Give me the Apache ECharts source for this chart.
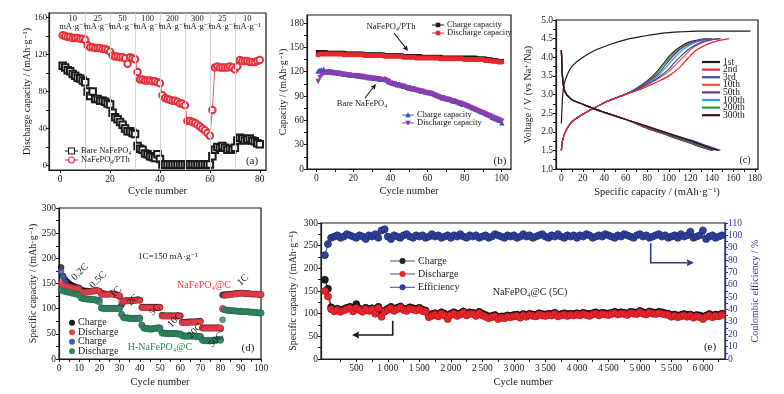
<!DOCTYPE html>
<html>
<head>
<meta charset="utf-8">
<script src="https://cdn.jsdelivr.net/npm/echarts@6/dist/echarts.min.js"></script>
<style>
  html, body { margin: 0; padding: 0; background: #fff; }
  #chart { width: 784px; height: 394px; }
</style>
</head>
<body>
<div id="chart"></div>
<script>
const FONT = "'Liberation Serif', 'DejaVu Serif', serif";

// ---- (a) rate capability, 80 cycles
const rateLabelsA = ["10", "25", "50", "100", "200", "300", "25", "10"];
const bareA = [108,106,103,102,99,97,95,94,92,90, 80,75,80,72,72,70,70,69,67,66,
  57,52,50,47,44,40,37,37,35,34, 21,18,17,13,12,10,9,8,12,7,
  1,1,1,1,1,1,1,1,1,1, 1,1,1,1,1,1,1,1,1,1,
  10,17,20,19,21,19,17,18,17,19, 27,30,29,27,28,29,27,26,24,23];
const pthA = [141,140,139,139,138,138,138,137,137,136, 130,128,128,127,127,127,126,126,125,123,
  119,118,118,117,117,116,110,117,116,115, 101,93,93,92,92,92,91,91,90,89,
  76,73,72,71,70,70,69,67,67,65, 48,48,47,46,44,42,40,38,35,32,
  60,106,107,106,106,106,106,107,106,104, 107,114,113,113,113,112,112,112,113,114];

// ---- (b) cycling, 100 cycles
const pthChargeB = [144,144,144,144,144,143,143,143,143,143, 143,143,143,143,143,142,142,142,142,142,
  142,142,142,142,142,141,141,141,141,141, 141,141,141,141,141,141,140,140,140,140,
  140,140,140,140,140,140,139,139,139,139, 139,139,139,139,139,139,138,138,138,138,
  138,138,138,138,138,138,138,137,137,137, 137,137,137,137,137,137,137,137,137,137,
  137,137,137,137,137,137,136,136,136,136, 136,135,135,135,134,134,134,133,133,133];
const pthDischargeB = [141,142,142,142,142,142,142,142,142,142, 142,142,142,142,141,141,141,141,141,141,
  141,141,141,141,141,140,140,140,140,140, 140,140,140,140,140,140,139,139,139,139,
  139,139,139,139,139,139,138,138,138,138, 138,138,138,137,137,137,137,137,137,137,
  137,137,137,137,137,137,136,136,136,136, 136,136,136,136,136,136,136,136,136,135,
  135,135,135,135,135,135,135,135,135,135, 134,134,134,134,133,133,133,132,132,132];
const bareChargeB = [121,122,122,123,120,120,120,120,119,119, 119,118,118,118,117,117,117,116,116,116,
  116,115,115,115,114,114,114,113,113,113, 112,112,112,111,111,111,112,110,108,107,
  106,106,105,104,104,103,102,102,101,100, 100,99,99,98,98,97,96,96,95,95,
  94,94,93,92,91,90,89,88,88,87, 86,86,85,84,84,83,82,81,80,80,
  79,78,77,76,75,74,73,72,71,70, 69,68,67,66,64,63,62,61,60,57];
const bareDischargeB = [108,113,116,118,119,119,120,119,119,118, 118,118,117,117,117,116,116,116,115,115,
  115,115,114,114,114,113,113,113,112,112, 112,111,111,111,110,110,110,109,108,106,
  105,105,104,104,103,102,102,101,100,100, 99,99,98,97,97,96,96,95,94,94,
  93,93,92,91,90,89,88,88,87,86, 86,85,84,84,83,82,81,81,80,79,
  78,77,76,75,74,73,72,71,70,69, 68,67,66,65,64,63,62,61,60,59];

// ---- (c) voltage profiles, [capacity, voltage]
const cycleNamesC = ["1st", "2nd", "3rd", "10th", "50th", "100th", "200th", "300th"];
const chargeFirstC = [[0,2.22],[0.5,2.6],[1,2.9],[2.5,3.27],[5.6,3.54],[10,3.76],[18,3.96],[30,4.17],
  [46,4.35],[61,4.48],[77,4.57],[90,4.63],[100,4.66],[110,4.68],[126,4.7],[176,4.7]];
const chargeHeadC = [[0,1.5],[1,1.75],[3,1.95],[6,2.12],[10,2.27],[15,2.38],[20,2.47],[30,2.63],
  [40,2.78],[50,2.9],[60,3.01]];
const chargeTailsC = [
  null,
  [[70,3.1],[80,3.22],[90,3.35],[100,3.5],[110,3.72],[118,3.98],[125,4.18],[135,4.34],[145,4.44],[156,4.5]],
  [[70,3.13],[80,3.28],[90,3.45],[100,3.68],[105,3.85],[112,4.05],[120,4.25],[130,4.4],[140,4.47],[148,4.5]],
  [[70,3.12],[80,3.26],[90,3.42],[100,3.62],[108,3.85],[115,4.05],[122,4.25],[132,4.4],[142,4.48],[147,4.5]],
  [[70,3.15],[80,3.33],[90,3.55],[97,3.8],[103,4.0],[110,4.2],[120,4.38],[130,4.46],[140,4.5]],
  [[70,3.14],[80,3.3],[90,3.5],[98,3.75],[105,3.98],[113,4.2],[123,4.38],[135,4.47],[148,4.5]],
  [[70,3.16],[80,3.35],[88,3.55],[95,3.8],[102,4.02],[110,4.22],[120,4.38],[130,4.47],[140,4.5]],
  [[70,3.17],[80,3.37],[88,3.58],[95,3.83],[101,4.05],[108,4.23],[118,4.4],[128,4.47],[138,4.5]]
];
const dischargeHeadC = [[0,4.19],[0.5,3.8],[1,3.5],[2.5,3.15],[5.6,2.97],[11,2.84],[20,2.74],[30,2.62],
  [40,2.52],[60,2.33]];
const dischargeTailsC = [
  [[80,2.14],[100,1.95],[120,1.76],[135,1.6],[146,1.5]],
  [[80,2.13],[100,1.94],[120,1.75],[135,1.6],[146,1.5]],
  [[80,2.15],[100,1.96],[120,1.78],[136,1.62],[148,1.5]],
  [[80,2.14],[100,1.95],[120,1.77],[136,1.61],[147,1.5]],
  [[80,2.11],[100,1.91],[120,1.72],[133,1.58],[142,1.5]],
  [[80,2.13],[100,1.93],[120,1.75],[135,1.6],[145,1.5]],
  [[80,2.1],[100,1.9],[120,1.7],[132,1.58],[141,1.5]],
  [[80,2.09],[100,1.89],[120,1.69],[131,1.58],[140,1.5]]
];
const colorsC = ["#1b1b1b", "#e32630", "#3a4ea3", "#f0503a", "#6b3a8c", "#2aa6e0", "#2a9a3a", "#3a1212"];

// ---- (d) rate capability, 100 cycles
const rateLabelsD = ["0.2C", "0.5C", "1C", "2C", "5C", "10C", "20C", "50C", "1C"];
const cChargeD = [182,165,158,153,150,147,145,143,142,141, 137,136,135,135,134,135,135,136,136,135,
  130,130,129,129,129,130,129,128,127,124, 108,115,116,116,116,117,117,117,118,117,
  103,103,103,103,103,103,103,103,103,103, 87,86,86,86,86,86,86,86,86,86,
  73,73,73,74,74,74,74,74,75,75, 62,62,62,62,62,62,62,62,62,60,
  127,128,128,128,129,129,130,130,131,131, 131,130,130,130,129,129,129,129,128,128];
const cDischargeD = [150,146,145,144,143,142,141,140,140,139, 133,132,132,133,133,134,135,135,136,134,
  128,128,128,128,129,129,128,128,127,126, 114,114,115,115,116,116,116,116,117,116,
  102,102,102,102,102,102,102,102,102,102, 85,85,85,85,85,85,85,85,85,85,
  72,72,72,72,73,73,73,73,74,74, 61,61,61,61,61,61,61,61,62,62,
  101,126,127,127,128,128,129,129,130,130, 131,130,130,130,129,129,129,129,128,128];
const hChargeD = [175,163,152,146,142,140,138,136,134,132, 121,120,120,119,119,118,118,118,117,117,
  102,101,101,101,101,101,101,101,101,101, 89,83,82,82,81,81,81,81,81,82,
  68,62,61,61,60,60,61,61,62,62, 52,52,51,51,51,51,51,51,50,50,
  47,46,46,46,46,46,46,45,45,45, 38,37,37,37,37,37,38,38,39,39,
  99,98,97,97,96,96,96,95,95,95, 94,94,94,94,93,93,93,92,92,92];
const hDischargeD = [137,135,134,133,132,131,130,129,128,127, 121,120,119,119,118,118,118,117,115,113,
  101,100,100,100,100,100,100,100,100,100, 88,82,81,81,80,80,80,80,80,80,
  67,61,60,60,59,59,60,61,62,58, 51,51,50,50,50,50,50,50,49,49,
  46,45,45,45,45,45,45,44,44,44, 37,36,36,36,36,36,37,37,38,37,
  78,98,97,96,96,96,95,95,95,94, 94,94,94,93,93,93,92,92,91,91];

// ---- (e) long cycling at 5C, one reading every 50 cycles
const eStep = 50;
const dischargeE = [150,138,110,105,108,104,107,110,112,105, 112,108,104,110,106,109,100,112,93,104,
  108,112,106,110,113,108,106,111,109,107, 110,106,104,92,95,98,94,100,96,88,
  97,100,95,98,102,96,100,99,95,101, 96,93,90,92,94,88,91,90,93,92,
  94,95,91,96,93,97,95,94,98,96, 95,97,96,99,94,96,98,95,97,96,
  98,96,99,97,95,98,100,96,99,98, 97,99,101,98,100,99,97,101,100,99,
  103,100,98,102,100,99,101,100,98,97, 93,95,92,94,96,93,95,91,94,92,
  88,93,96,92,95,94,97];
const chargeE = [175,155,114,109,111,108,110,113,115,109, 121,111,108,113,110,112,104,115,98,107,
  111,115,109,113,116,111,110,114,112,110, 113,109,107,96,99,101,98,103,100,92,
  100,103,99,101,105,100,103,102,99,104, 100,97,94,95,97,92,94,94,96,95,
  97,98,95,99,97,100,98,97,101,99, 98,100,99,102,98,99,101,99,100,99,
  101,99,102,100,99,101,103,100,102,101, 100,102,104,101,103,102,100,104,103,102,
  106,103,101,105,103,102,104,103,101,100, 97,98,96,97,99,97,98,95,97,96,
  93,96,99,96,98,97,100];
const efficiencyE = [84,93,98,99,100,98,99,101,100,99, 98,100,99,97,100,99,101,98,104,105,
  99,97,100,99,98,100,101,99,98,100, 99,100,98,99,101,99,100,98,99,100,
  98,100,99,101,99,98,100,99,100,98, 99,100,98,99,101,100,99,98,100,99,
  100,98,99,101,99,100,98,99,100,101, 99,98,100,99,101,99,98,100,99,100,
  98,100,99,101,100,98,99,100,99,101, 100,99,98,100,99,101,100,99,98,100,
  101,99,100,98,99,100,101,99,100,98, 99,100,98,101,99,100,103,98,99,100,
  104,97,99,100,98,99,100];

const cyc = (arr) => arr.map((v, i) => [i + 1, v]);
const cycE = (arr) => arr.map((v, i) => [i === 0 ? 1 : i * eStep, v]);
const range = (a, b, s) => { const out = []; for (let v = a; v <= b + 1e-9; v += s) out.push(+v.toFixed(3)); return out; };

const INK = "#1a1a1a";
const BLUE_AX = "#2b3a93";
const TICK_FS = 9.5;
const NAME_FS = 10;

function xAxisOf(gi, min, max, labels, ticks, name, nameGap, fmt) {
  return {
    type: "value", gridIndex: gi, min, max, name, nameLocation: "middle", nameGap, nameMoveOverlap: false,
    nameTextStyle: { fontFamily: FONT, fontSize: NAME_FS + 0.5, color: INK },
    axisLine: { show: true, onZero: false, lineStyle: { color: INK, width: 1.2 } },
    axisTick: { show: true, customValues: ticks, length: 3, lineStyle: { color: INK } },
    axisLabel: { customValues: labels, fontFamily: FONT, fontSize: TICK_FS, color: INK, margin: 4, formatter: fmt },
    splitLine: { show: false }
  };
}
function yAxisOf(gi, min, max, labels, ticks, name, nameGap, fmt, extra) {
  return Object.assign({
    type: "value", gridIndex: gi, min, max, name, nameLocation: "middle", nameGap, nameRotate: 90, nameMoveOverlap: false,
    nameTextStyle: { fontFamily: FONT, fontSize: NAME_FS, color: INK },
    axisLine: { show: true, onZero: false, lineStyle: { color: INK, width: 1.2 } },
    axisTick: { show: true, customValues: ticks, length: 3, lineStyle: { color: INK } },
    axisLabel: { customValues: labels, fontFamily: FONT, fontSize: TICK_FS, color: INK, margin: 3, formatter: fmt },
    splitLine: { show: false }
  }, extra || {});
}

const gridBox = { show: true, borderColor: INK, borderWidth: 1.2, backgroundColor: "transparent" };
const fmtThousands = (v) => (v >= 1000 ? Math.floor(v / 1000) + "\u2009" + String(v % 1000).padStart(3, "0") : String(v));

const series = [];

// (a)
series.push({
  type: "line", xAxisIndex: 0, yAxisIndex: 0, data: cyc(bareA),
  symbol: "emptyRect", symbolSize: 6.5, lineStyle: { color: INK, width: 0.8 },
  itemStyle: { color: INK, borderWidth: 1.1 },
  markLine: {
    silent: true, symbol: "none", label: { show: false },
    lineStyle: { color: "#d6d6d6", type: "solid", width: 1 },
    data: range(10, 70, 10).map((v) => ({ xAxis: v }))
  }
});
series.push({
  type: "line", xAxisIndex: 0, yAxisIndex: 0, data: cyc(pthA),
  symbol: "emptyCircle", symbolSize: 6.5, lineStyle: { color: "#e8323c", width: 0.8 },
  itemStyle: { color: "#e8323c", borderWidth: 1.1 }
});

// (b)
series.push({ type: "line", xAxisIndex: 1, yAxisIndex: 1, data: cyc(pthChargeB), symbol: "rect", symbolSize: 4.5,
  lineStyle: { color: INK, width: 1 }, itemStyle: { color: INK } });
series.push({ type: "line", xAxisIndex: 1, yAxisIndex: 1, data: cyc(pthDischargeB), symbol: "circle", symbolSize: 5,
  lineStyle: { color: "#e8262e", width: 1 }, itemStyle: { color: "#e8262e" } });
series.push({ type: "line", xAxisIndex: 1, yAxisIndex: 1, data: cyc(bareChargeB), symbol: "triangle", symbolSize: 5.5,
  lineStyle: { color: "#3b52b4", width: 1 }, itemStyle: { color: "#3b52b4" } });
series.push({ type: "line", xAxisIndex: 1, yAxisIndex: 1, data: cyc(bareDischargeB), symbol: "triangle", symbolRotate: 180, symbolSize: 5.5,
  lineStyle: { color: "#8b3fae", width: 1 }, itemStyle: { color: "#8b3fae" } });

// (c)
for (let k = cycleNamesC.length - 1; k >= 0; k--) {
  const charge = k === 0 ? chargeFirstC : chargeHeadC.concat(chargeTailsC[k]);
  const discharge = dischargeHeadC.concat(dischargeTailsC[k]);
  [charge, discharge].forEach((d) => series.push({
    type: "line", xAxisIndex: 2, yAxisIndex: 2, data: d, symbol: "none", smooth: 0.3,
    lineStyle: { color: colorsC[k], width: 1.2 }
  }));
}

// (d)
const dotD = (data, color, border) => ({
  type: "scatter", xAxisIndex: 3, yAxisIndex: 3, data: cyc(data), symbolSize: 6,
  itemStyle: { color, borderColor: border, borderWidth: 0.6 }
});
series.push(dotD(cChargeD, "#1c1c1c", "#000"));
series.push(dotD(hChargeD, "#4a5cb2", "#2e3c80"));
series.push(dotD(cDischargeD, "#ea4452", "#b8242f"));
series.push(dotD(hDischargeD, "#2f8c60", "#1d6040"));

// (e)
series.push({ type: "line", xAxisIndex: 4, yAxisIndex: 5, data: cycE(efficiencyE), symbol: "circle", symbolSize: 7,
  lineStyle: { color: "#2d3d96", width: 1 }, itemStyle: { color: "#2f3f9c", borderColor: "#1b2766", borderWidth: 0.7 } });
series.push({ type: "line", xAxisIndex: 4, yAxisIndex: 4, data: cycE(chargeE), symbol: "circle", symbolSize: 7,
  lineStyle: { color: "#222", width: 1 }, itemStyle: { color: "#1e1e1e", borderColor: "#000", borderWidth: 0.7 } });
series.push({ type: "line", xAxisIndex: 4, yAxisIndex: 4, data: cycE(dischargeE), symbol: "circle", symbolSize: 7,
  lineStyle: { color: "#e8262e", width: 1 }, itemStyle: { color: "#e8262e", borderColor: "#b5161c", borderWidth: 0.7 } });

const option = {
  backgroundColor: "#fff",
  animation: false,
  textStyle: { fontFamily: FONT },
  grid: [
    Object.assign({ left: 49, top: 13, width: 217, height: 157 }, gridBox),
    Object.assign({ left: 307, top: 15, width: 204, height: 154 }, gridBox),
    Object.assign({ left: 556, top: 20, width: 202, height: 149 }, gridBox),
    Object.assign({ left: 59, top: 208, width: 202, height: 151 }, gridBox),
    Object.assign({ left: 321, top: 223, width: 404, height: 136 }, gridBox)
  ],
  xAxis: [
    xAxisOf(0, -4.5, 82.5, range(0, 80, 20), range(0, 80, 20), "Cycle number", 15.5),
    xAxisOf(1, -5, 105, range(0, 100, 20), range(0, 100, 10), "Cycle number", 16.5),
    xAxisOf(2, -5, 183, range(0, 180, 20), range(0, 180, 10), "Specific capacity / (mAh\u00b7g\u207b\u00b9)", 17.5),
    xAxisOf(3, 0, 100, range(0, 100, 10), range(0, 100, 5), "Cycle number", 17.5),
    xAxisOf(4, -60, 6350, range(500, 6000, 500), range(250, 6250, 250), "Cycle number", 17.5, fmtThousands)
  ],
  yAxis: [
    yAxisOf(0, -5, 165, range(0, 160, 40), range(0, 160, 20), "Discharge capacity / (mAh\u00b7g\u207b\u00b9)", 17, null,
      { axisLabel: { customValues: range(0, 160, 40), fontFamily: FONT, fontSize: 8.5, color: INK, margin: 2 } }),
    yAxisOf(1, 0, 190, range(0, 180, 30), range(0, 180, 15), "Capacity / (mAh\u00b7g\u207b\u00b9)", 19),
    yAxisOf(2, 1, 5, range(1, 5, 0.5), range(1, 5, 0.25), "Voltage / V (vs Na\u207a/Na)", 23, (v) => v.toFixed(1)),
    yAxisOf(3, 0, 300, range(0, 300, 50), range(0, 300, 25), "Specific capacity / (mAh\u00b7g\u207b\u00b9)", 20.5),
    yAxisOf(4, 0, 300, range(0, 300, 50), range(0, 300, 25), "Specific capacity / (mAh\u00b7g\u207b\u00b9)", 22.5),
    yAxisOf(4, 0, 110, range(0, 110, 10), range(0, 110, 5), "Coulombic efficiency / %", 25, null, {
      position: "right",
      nameTextStyle: { fontFamily: FONT, fontSize: NAME_FS, color: BLUE_AX },
      axisLine: { show: true, onZero: false, lineStyle: { color: BLUE_AX, width: 1.4 } },
      axisTick: { show: true, customValues: range(0, 110, 5), length: 3, lineStyle: { color: BLUE_AX } },
      axisLabel: { customValues: range(0, 110, 10), fontFamily: FONT, fontSize: TICK_FS, color: BLUE_AX, margin: 3 }
    })
  ],
  series
};

const chart = echarts.init(document.getElementById("chart"), null, { renderer: "canvas" });
chart.setOption(option);

// ---- annotations (legends, arrows, labels)
const txt = (x, y, text, o) => ({
  type: "text", x, y, silent: true, z: 50,
  style: Object.assign({ text, fontFamily: FONT, fontSize: 10, fill: INK, align: "left", verticalAlign: "middle" }, o || {})
});
function marker(kind, cx, cy, color, s) {
  const h = s / 2;
  if (kind === "circle" || kind === "emptyCircle") {
    return { type: "circle", shape: { cx, cy, r: h }, z: 51, silent: true,
      style: kind === "circle" ? { fill: color } : { fill: "#fff", stroke: color, lineWidth: 1.1 } };
  }
  if (kind === "rect" || kind === "emptyRect") {
    return { type: "rect", shape: { x: cx - h, y: cy - h, width: s, height: s }, z: 51, silent: true,
      style: kind === "rect" ? { fill: color } : { fill: "#fff", stroke: color, lineWidth: 1.1 } };
  }
  const pts = kind === "triUp" ? [[cx - h, cy + h * 0.8], [cx + h, cy + h * 0.8], [cx, cy - h]]
    : [[cx - h, cy - h * 0.8], [cx + h, cy - h * 0.8], [cx, cy + h]];
  return { type: "polygon", shape: { points: pts }, z: 51, silent: true, style: { fill: color } };
}
function legendRow(x, y, label, color, kind, lineLen, size, fs, lineColor) {
  const els = [];
  if (lineLen > 0) {
    els.push({ type: "line", shape: { x1: x, y1: y, x2: x + lineLen, y2: y }, z: 50, silent: true,
      style: { stroke: lineColor || color, lineWidth: kind ? 1 : 2.2 } });
  }
  if (kind) els.push(marker(kind, x + lineLen / 2, y, color, size));
  els.push(txt(x + lineLen + 3, y, label, { fontSize: fs }));
  return els;
}
function arrow(points, color, head, width) {
  const [x1, y1] = points[points.length - 2];
  const [x2, y2] = points[points.length - 1];
  const ang = Math.atan2(y2 - y1, x2 - x1);
  const a = 0.45;
  const tip = [x2, y2];
  const l = [x2 - head * Math.cos(ang - a), y2 - head * Math.sin(ang - a)];
  const r = [x2 - head * Math.cos(ang + a), y2 - head * Math.sin(ang + a)];
  const back = [x2 - head * 0.8 * Math.cos(ang), y2 - head * 0.8 * Math.sin(ang)];
  const shaft = points.slice(0, -1).concat([back]);
  return [
    { type: "polyline", shape: { points: shaft }, z: 50, silent: true, style: { stroke: color, lineWidth: width || 1.2, fill: null } },
    { type: "polygon", shape: { points: [tip, l, back, r] }, z: 50, silent: true, style: { fill: color } }
  ];
}

const g = [];
// (a) rate labels
rateLabelsA.forEach((lab, i) => {
  const [px] = chart.convertToPixel({ xAxisIndex: 0, yAxisIndex: 0 }, [5 + i * 10, 160]);
  g.push(txt(px, 19, lab, { align: "center", fontSize: 8.5 }));
  g.push(txt(px, 26.5, "mA\u00b7g\u207b\u00b9", { align: "center", fontSize: 8.5 }));
});
g.push(...legendRow(65, 151, "Bare NaFePO\u2084", INK, "emptyRect", 13, 6, 8.5));
g.push(...legendRow(65, 160, "NaFePO\u2084/PTh", "#e8323c", "emptyCircle", 13, 6, 8.5));
g.push(txt(252, 161, "(a)", { fontSize: 11, align: "center" }));

// (b)
g.push(...legendRow(432, 25, "Charge capacity", INK, "rect", 12, 4.5, 8.5));
g.push(...legendRow(432, 33, "Discharge capacity", "#e8262e", "circle", 12, 5, 8.5));
g.push(...legendRow(402, 115, "Charge capacity", "#3b52b4", "triUp", 12, 5.5, 8.5));
g.push(...legendRow(402, 123, "Discharge capacity", "#8b3fae", "triDown", 12, 5.5, 8.5));
g.push(txt(391, 27, "NaFePO\u2084/PTh", { align: "center", fontSize: 8.5 }));
g.push(...arrow([[394, 33], [408, 51]], INK, 6, 1.1));
g.push(txt(362, 104, "Bare NaFePO\u2084", { align: "center", fontSize: 8.5 }));
g.push(...arrow([[365, 98], [376, 84]], INK, 6, 1.1));
g.push(txt(500, 161, "(b)", { fontSize: 11, align: "center" }));

// (c)
cycleNamesC.forEach((n, i) => g.push(...legendRow(702, 62 + i * 7.6, n, colorsC[i], null, 18, 0, 9.5)));
g.push(txt(745, 160, "(c)", { fontSize: 10, align: "center" }));

// (d)
[["Charge", "#1c1c1c"], ["Discharge", "#ea4452"], ["Charge", "#4a5cb2"], ["Discharge", "#2f8c60"]].forEach(([n, c], i) => {
  g.push(marker("circle", 72, 322.7 + i * 9.5, c, 6));
  g.push(txt(78, 322.7 + i * 9.5, n, { fontSize: 10 }));
});
g.push(txt(168, 257, "1C=150 mA\u00b7g\u207b\u00b9", { align: "center", fontSize: 9 }));
g.push(txt(204, 285, "NaFePO\u2084@C", { align: "center", fontSize: 10, fill: "#e8414e" }));
g.push(txt(160, 347, "H-NaFePO\u2084@C", { align: "center", fontSize: 10, fill: "#2f8c60" }));
g.push(txt(248, 348, "(d)", { fontSize: 11, align: "center" }));
const rotPosD = [[80, 272], [98, 280], [116, 292], [133, 300], [155, 310], [175, 320], [195, 331], [216, 340], [243, 280]];
rateLabelsD.forEach((lab, i) => {
  const t = txt(rotPosD[i][0], rotPosD[i][1], lab, { align: "center", fontSize: 10 });
  t.rotation = Math.PI / 4;
  g.push(t);
});

// (e)
g.push(...legendRow(390, 261, "Charge", "#1e1e1e", "circle", 25, 6, 10, "#555"));
g.push(...legendRow(390, 274, "Discharge", "#e8262e", "circle", 25, 6, 10, "#555"));
g.push(...legendRow(390, 287.3, "Efficiency", "#2f3f9c", "circle", 25, 6, 10, "#3a4aa0"));
g.push(txt(530, 292, "NaFePO\u2084@C (5C)", { align: "center", fontSize: 10 }));
g.push(txt(710, 347, "(e)", { fontSize: 11, align: "center" }));
g.push(...arrow([[392.7, 320.7], [392.7, 335], [352, 335]], INK, 8, 1.6));
g.push(...arrow([[650.7, 243.3], [650.7, 262.7], [694, 262.7]], BLUE_AX, 8, 1.6));

chart.setOption({ graphic: { elements: g } });
</script>
</body>
</html>
